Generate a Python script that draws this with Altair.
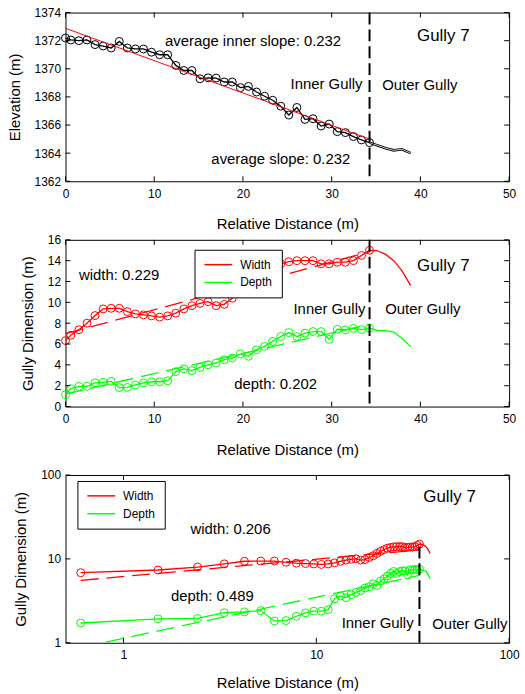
import altair as alt
import pandas as pd

FONT = "Liberation Sans"

# ---------------- data ----------------
dist = [0.0, 0.6, 1.51, 2.42, 3.33, 4.24, 5.15, 6.06, 6.97, 7.88, 8.79, 9.7, 10.61,
        11.52, 12.43, 13.34, 14.25, 15.16, 16.07, 16.98, 17.89, 18.8, 19.71, 20.62,
        21.53, 22.44, 23.35, 24.26, 25.17, 26.08, 26.99, 27.9, 28.81, 29.72, 30.63,
        31.54, 32.45, 33.36, 34.27]
outer_dist = [35.18, 36.09, 37.0, 37.91, 38.9]

elev = [1372.19, 1372.05, 1372.0, 1372.05, 1371.72, 1371.62, 1371.48, 1371.95, 1371.48,
        1371.41, 1371.41, 1371.18, 1371.0, 1371.0, 1370.24, 1369.88, 1369.88, 1369.29,
        1369.36, 1369.34, 1369.06, 1369.06, 1368.66, 1368.75, 1368.35, 1368.05, 1367.76,
        1367.34, 1366.71, 1367.25, 1366.4, 1366.45, 1365.93, 1366.07, 1365.53, 1365.46,
        1365.18, 1364.94, 1364.75]
elev_outer = [1364.55, 1364.35, 1364.2, 1364.28, 1364.0]

width = [6.33, 6.84, 7.37, 8.0, 8.73, 9.37, 9.43, 9.43, 9.11, 8.89, 8.8, 8.7, 8.58, 8.7,
         8.96, 9.37, 9.68, 9.9, 10.06, 9.68, 9.81, 10.4, 10.9, 11.6, 12.3, 12.9, 13.4,
         13.7, 13.9, 14.0, 14.0, 14.0, 13.7, 13.7, 13.85, 13.85, 14.0, 14.5, 15.0]
width_outer = [14.95, 14.6, 14.0, 13.05, 11.6]

depth = [1.14, 1.72, 1.93, 1.95, 2.28, 2.33, 2.42, 1.82, 1.84, 2.07, 2.27, 2.38, 2.38,
         2.48, 3.35, 3.62, 3.45, 3.75, 4.0, 4.18, 4.5, 4.65, 5.05, 4.82, 5.45, 5.78, 6.25,
         6.72, 7.1, 6.72, 7.05, 7.2, 7.2, 6.45, 7.42, 7.35, 7.5, 7.38, 7.52]
depth_outer = [7.3, 7.28, 7.15, 6.55, 5.75]

fit_x = [0.0, 34.27]
elev_fit = [1372.88, 1365.0]
width_fit = [7.0, 14.85]
depth_fit = [1.2, 7.9]

logfit_x = [0.6, 34.27]
width_logfit = [5.55, 12.8]
depth_logfit = [0.88, 6.36]

boundary = 34.27
series = ["Width", "Depth"]
colors = ["#ff0000", "#00ff00"]

W = 447


# ---------------- helpers ----------------
class Axes:
    def __init__(self, xscale, xaxis, yscale, yaxis):
        self.xs, self.xa, self.ys, self.ya = xscale, xaxis, yscale, yaxis

    def X(self, field):
        return alt.X(f"{field}:Q", scale=self.xs, axis=self.xa)

    def Y(self, field):
        return alt.Y(f"{field}:Q", scale=self.ys, axis=self.ya)

    def XD(self, v):
        return alt.XDatum(v, type="quantitative", scale=self.xs, axis=self.xa)

    def YD(self, v):
        return alt.YDatum(v, type="quantitative", scale=self.ys, axis=self.ya)


def frame_ticks(xvals, yvals, A, Wd, H, L=5):
    xt = pd.DataFrame({"tx": xvals})
    yt = pd.DataFrame({"ty": yvals})
    bx = alt.Chart(xt).mark_rule(color="black", strokeWidth=1)
    by = alt.Chart(yt).mark_rule(color="black", strokeWidth=1)
    return [
        bx.encode(x=A.X("tx"), y=alt.value(H), y2=alt.value(H - L)),
        bx.encode(x=A.X("tx"), y=alt.value(0), y2=alt.value(L)),
        by.encode(y=A.Y("ty"), x=alt.value(0), x2=alt.value(L)),
        by.encode(y=A.Y("ty"), x=alt.value(Wd), x2=alt.value(Wd - L)),
    ]


def label(A, text, x, y, size=15):
    return alt.Chart(pd.DataFrame({"t": [text]})).mark_text(
        font=FONT, fontSize=size, color="black", align="center", baseline="middle"
    ).encode(x=A.XD(x), y=A.YD(y), text="t:N")


def xaxis(values, fmt="d", title_pad=18):
    return alt.Axis(title="Relative Distance (m)", values=values, format=fmt,
                    ticks=False, domain=False, grid=False, labelPadding=7,
                    titlePadding=title_pad, labelFlush=False, labelOverlap=False)


def yaxis(title, values, fmt="d"):
    return alt.Axis(title=title, values=values, format=fmt, ticks=False,
                    domain=False, grid=False, labelPadding=5, titlePadding=12,
                    labelFlush=False, labelOverlap=False)


def legend_for(lx, ly):
    return alt.Legend(title=None, orient="none", legendX=lx, legendY=ly,
                      symbolType="M-1,0H4.6", symbolSize=100, symbolStrokeWidth=1.5,
                      labelFont=FONT, labelFontSize=12, labelOffset=25, padding=9,
                      rowPadding=6, strokeColor="black", fillColor="white")


def boundary_rule(A):
    return alt.Chart(pd.DataFrame({"b": [boundary]})).mark_rule(
        color="black", strokeWidth=2, strokeDash=[12, 5]).encode(x=A.X("b"))


xvals_lin = [0, 10, 20, 30, 40, 50]

# ---------------- panel 1 ----------------
H1 = 170
yv1 = [1362, 1364, 1366, 1368, 1370, 1372, 1374]
A1 = Axes(alt.Scale(domain=[0, 50], nice=False), xaxis(xvals_lin),
          alt.Scale(domain=[1362, 1374], nice=False, zero=False),
          yaxis("Elevation (m)", yv1))

prof_in = pd.DataFrame({"d": dist, "e": elev})
prof_out = pd.DataFrame({"d": [boundary] + outer_dist, "e": [elev[-1]] + elev_outer})
fit1 = pd.DataFrame({"d": fit_x, "e": elev_fit})

p1_layers = [
    alt.Chart(prof_out).mark_line(color="black", strokeWidth=2.6).encode(x=A1.X("d"), y=A1.Y("e")),
    alt.Chart(prof_out).mark_line(color="white", strokeWidth=0.8).encode(x=A1.X("d"), y=A1.Y("e")),
    alt.Chart(prof_in).mark_line(color="black", strokeWidth=1.3).encode(x=A1.X("d"), y=A1.Y("e")),
    alt.Chart(prof_in).mark_point(shape="circle", filled=False, size=64, color="black",
                                  strokeWidth=1, opacity=1).encode(x=A1.X("d"), y=A1.Y("e")),
    alt.Chart(fit1).mark_line(color="#ff0000", strokeWidth=1).encode(x=A1.X("d"), y=A1.Y("e")),
    boundary_rule(A1),
    label(A1, "average inner slope: 0.232", 21.14, 1372.0),
    label(A1, "average slope: 0.232", 24.27, 1363.58),
    label(A1, "Inner Gully", 29.42, 1368.9),
    label(A1, "Outer Gully", 39.93, 1368.83),
    label(A1, "Gully 7", 42.58, 1372.36, 17),
] + frame_ticks(xvals_lin, yv1, A1, W, H1)

p1 = alt.layer(*p1_layers).properties(width=W, height=H1)

# ---------------- panel 2 ----------------
H2 = 168
yv2 = [0, 2, 4, 6, 8, 10, 12, 14, 16]
A2 = Axes(alt.Scale(domain=[0, 50], nice=False), xaxis(xvals_lin),
          alt.Scale(domain=[0, 16], nice=False),
          yaxis("Gully Dimension (m)", yv2))

lines = pd.DataFrame({
    "d": (dist + outer_dist) * 2,
    "v": width + width_outer + depth + depth_outer,
    "s": ["Width"] * (len(dist) + len(outer_dist)) + ["Depth"] * (len(dist) + len(outer_dist)),
})
pts = pd.DataFrame({
    "d": dist * 2,
    "v": width + depth,
    "s": ["Width"] * len(dist) + ["Depth"] * len(dist),
})
fits2 = pd.DataFrame({"d": fit_x * 2, "v": width_fit + depth_fit,
                      "s": ["Width", "Width", "Depth", "Depth"]})

cscale = alt.Scale(domain=series, range=colors)

p2_layers = [
    alt.Chart(fits2).mark_line(strokeWidth=1.3, strokeDash=[18, 8]).encode(
        x=A2.X("d"), y=A2.Y("v"), detail="s:N",
        stroke=alt.Stroke("s:N", scale=cscale, legend=None)),
    alt.Chart(pts).mark_point(shape="circle", filled=False, size=64, strokeWidth=1,
                              opacity=1).encode(
        x=A2.X("d"), y=A2.Y("v"),
        stroke=alt.Stroke("s:N", scale=cscale, legend=None)),
    alt.Chart(lines).mark_line(strokeWidth=1.3).encode(
        x=A2.X("d"), y=A2.Y("v"),
        color=alt.Color("s:N", scale=cscale, sort=series, legend=legend_for(130, 10))),
    boundary_rule(A2),
    label(A2, "width: 0.229", 6.04, 12.65),
    label(A2, "depth: 0.202", 23.68, 2.15),
    label(A2, "Inner Gully", 29.75, 9.36),
    label(A2, "Outer Gully", 40.27, 9.36),
    label(A2, "Gully 7", 42.58, 13.47, 17),
] + frame_ticks(xvals_lin, yv2, A2, W, H2)

p2 = alt.layer(*p2_layers).resolve_scale(color="independent", stroke="independent").properties(width=W, height=H2)

# ---------------- panel 3 (log-log) ----------------
H3 = 169
A3 = Axes(alt.Scale(type="log", domain=[0.5, 100], nice=False),
          xaxis([1, 10, 100], title_pad=15),
          alt.Scale(type="log", domain=[1, 100], nice=False),
          yaxis("Gully Dimension (m)", [1, 10, 100]))

lines3 = lines[lines["d"] > 0]
pts3 = pts[pts["d"] > 0]
fits3 = pd.DataFrame({"d": logfit_x * 2, "v": width_logfit + depth_logfit,
                      "s": ["Width", "Width", "Depth", "Depth"]})

p3_layers = [
    alt.Chart(fits3).mark_line(strokeWidth=1.3, strokeDash=[18, 8], clip=True).encode(
        x=A3.X("d"), y=A3.Y("v"), detail="s:N",
        stroke=alt.Stroke("s:N", scale=cscale, legend=None)),
    alt.Chart(pts3).mark_point(shape="circle", filled=False, size=64, strokeWidth=1,
                               opacity=1).encode(
        x=A3.X("d"), y=A3.Y("v"),
        stroke=alt.Stroke("s:N", scale=cscale, legend=None)),
    alt.Chart(lines3).mark_line(strokeWidth=1.3).encode(
        x=A3.X("d"), y=A3.Y("v"),
        color=alt.Color("s:N", scale=cscale, sort=series, legend=legend_for(12, 6))),
    alt.Chart(pd.DataFrame({"b": [boundary], "lo": [1.0], "hi": [15.5]})).mark_rule(
        color="black", strokeWidth=2, strokeDash=[12, 5]).encode(
        x=A3.X("b"), y=A3.Y("lo"), y2="hi:Q"),
    label(A3, "width: 0.206", 3.59, 22.8),
    label(A3, "depth: 0.489", 2.89, 3.62),
    label(A3, "Inner Gully", 20.8, 1.70),
    label(A3, "Outer Gully", 62.6, 1.67),
    label(A3, "Gully 7", 49.1, 54.2, 17),
] + frame_ticks([1, 10, 100], [1, 10, 100], A3, W, H3)

p3 = alt.layer(*p3_layers).resolve_scale(color="independent", stroke="independent").properties(width=W, height=H3)

top = alt.vconcat(p1, p2, spacing=0)
chart = alt.vconcat(top, p3, spacing=10).properties(
    padding={"left": 6, "top": 3, "right": 5, "bottom": 2},
    background="white",
).configure_view(stroke="black", strokeWidth=1).configure_axis(
    labelFont=FONT, labelFontSize=12, labelColor="black", labelOverlap=False,
    titleFont=FONT, titleFontSize=15, titleColor="black", titleFontWeight="normal",
).configure_legend(labelColor="black")

chart.save("out.html", embed_options={"renderer": "svg", "actions": False})
